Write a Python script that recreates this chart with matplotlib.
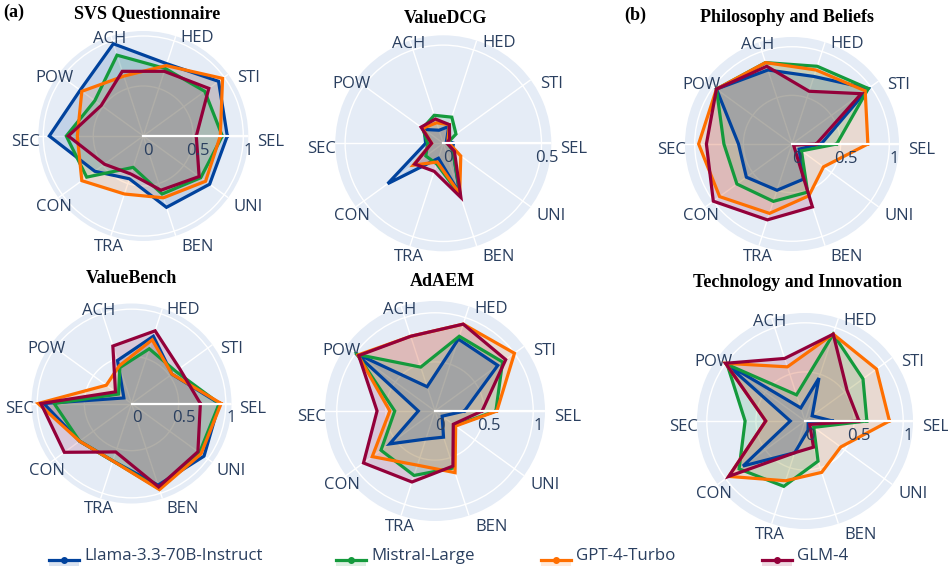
import numpy as np
import matplotlib.pyplot as plt
from matplotlib.patches import Rectangle
from matplotlib.lines import Line2D
import matplotlib.transforms as mtransforms

plt.rcParams['font.family'] = ['Open Sans', 'DejaVu Sans']

# ------------------------------------------------------
# Data
# ------------------------------------------------------
categories = ["SEL", "STI", "HED", "ACH", "POW", "SEC", "CON", "TRA", "BEN", "UNI"]
models = ["Llama-3.3-70B-Instruct", "Mistral-Large", "GPT-4-Turbo", "GLM-4"]
model_colors = ["#00429d", "#149a3c", "#ff6f00", "#93003a"]

# rows follow models, columns follow categories
svs = [[0.84, 0.93, 0.76, 0.97, 0.78, 0.94, 0.60, 0.45, 0.75, 0.82],
       [0.79, 0.76, 0.71, 0.85, 0.60, 0.77, 0.70, 0.33, 0.61, 0.71],
       [0.77, 0.98, 0.74, 0.63, 0.76, 0.66, 0.76, 0.61, 0.65, 0.77],
       [0.53, 0.81, 0.68, 0.68, 0.52, 0.75, 0.48, 0.40, 0.57, 0.69]]

valuedcg = [[0.05, 0.02, 0.09, 0.07, 0.12, 0.09, 0.35, 0.08, 0.27, 0.06],
            [0.02, 0.08, 0.14, 0.15, 0.13, 0.08, 0.11, 0.11, 0.28, 0.06],
            [0.03, 0.03, 0.10, 0.11, 0.13, 0.06, 0.19, 0.10, 0.27, 0.11],
            [0.02, 0.04, 0.10, 0.13, 0.14, 0.06, 0.18, 0.15, 0.29, 0.07]]

philosophy = [[0.30, 0.97, 0.73, 0.80, 0.96, 0.55, 0.58, 0.50, 0.38, 0.09],
              [0.46, 0.97, 0.84, 0.88, 0.96, 0.70, 0.70, 0.62, 0.52, 0.12],
              [0.78, 0.93, 0.80, 0.88, 0.96, 0.96, 0.92, 0.75, 0.56, 0.40],
              [0.25, 0.88, 0.57, 0.84, 0.96, 0.88, 1.00, 0.82, 0.68, 0.02]]

valuebench = [[0.93, 0.53, 0.75, 0.48, 0.10, 0.93, 0.68, 0.64, 0.91, 0.95],
              [0.93, 0.58, 0.61, 0.40, 0.17, 0.82, 0.68, 0.64, 0.95, 0.89],
              [0.95, 0.53, 0.71, 0.42, 0.33, 0.99, 0.68, 0.64, 0.96, 0.91],
              [0.73, 0.63, 0.81, 0.64, 0.21, 0.96, 0.88, 0.54, 0.93, 0.87]]

adaem = [[0.30, 0.79, 0.77, 0.26, 1.00, 0.17, 0.57, 0.30, 0.28, 0.09],
         [0.62, 0.85, 0.80, 0.47, 0.98, 0.41, 0.68, 0.69, 0.61, 0.25],
         [0.63, 1.00, 0.93, 0.80, 0.97, 0.46, 0.79, 0.58, 0.66, 0.26],
         [0.48, 0.89, 0.93, 0.80, 0.96, 0.59, 0.90, 0.76, 0.59, 0.23]]

technology = [[0.28, 0.09, 0.46, 0.14, 1.00, 0.15, 0.78, 0.34, 0.10, 0.04],
              [0.63, 0.73, 0.93, 0.28, 0.98, 0.61, 0.83, 0.70, 0.43, 0.11],
              [0.86, 0.90, 0.93, 0.58, 1.00, 0.40, 0.96, 0.64, 0.55, 0.45],
              [0.55, 0.53, 0.93, 0.67, 1.00, 0.40, 0.96, 0.34, 0.28, 0.06]]

# ------------------------------------------------------
# Layout (pixels)
# ------------------------------------------------------
W, H = 948, 569
fig = plt.figure(figsize=(W / 100, H / 100), dpi=100)

FONT_COLOR = "#2a3f5f"
BG = "#E5ECF6"

# label centre offsets for a circle of radius 105 px
label_dx = [127, 105, 54, -34, -89, -118, -89, -34, 54, 105]
label_dy = [5.7, -57.7, -97.7, -96.7, -57.7, 5.7, 70.7, 110.7, 110.7, 70.7]

angles = np.deg2rad(np.arange(len(categories)) * 36.0)


def px(x, y):
    return x / W, 1 - y / H


def radar(data, title, cx, cy, R, rmax, rings, tx, ty):
    x0, y0 = px(cx - R, cy + R)
    ax = fig.add_axes([x0, y0, 2 * R / W, 2 * R / H], projection="polar")
    ax.set_facecolor(BG)
    ax.set_ylim(0, rmax)
    ax.set_xticks(angles)
    ax.set_xticklabels([])
    ax.set_yticks(rings)
    ax.set_yticklabels([])
    ax.grid(color="white", lw=1.0)
    ax.spines["polar"].set_visible(False)

    th = np.append(angles, angles[0])
    n = len(data)
    for k in range(n):
        r = np.append(data[k], data[k][0])
        col = model_colors[k]
        # fills stacked last model first, outlines first model first
        ax.fill(th, r, color=col, alpha=0.15, lw=0, zorder=2 + (n - k) * 0.1)
        ax.plot(th, r, color=col, lw=2.3, zorder=3 + k * 0.1, solid_joinstyle="miter")

    ax.plot([0, 0], [0, rmax], color="white", lw=1.6, zorder=4)

    # angular labels
    s = R / 105.0
    for lab, dx, dy in zip(categories, label_dx, label_dy):
        ax.text(0.5 + dx * s / (2 * R), 0.5 - dy * s / (2 * R), lab,
                transform=ax.transAxes, ha="center", va="center",
                fontsize=12, color=FONT_COLOR)

    # radial tick labels
    off = mtransforms.offset_copy(ax.transData, fig=fig, x=5, y=-15, units="dots")
    for t in [0] + list(rings):
        ax.text(0, t, f"{t:g}", transform=off, ha="center", va="center",
                fontsize=12, color=FONT_COLOR, zorder=6)

    fig.text(*px(tx, ty), title, ha="center", va="baseline", fontsize=13,
             fontweight="bold", family="Liberation Serif", color="black")
    return ax


radar(svs, "SVS Questionnaire", 143.3, 136, 105, 1.05, [0.5, 1], 146.7, 18.5)
radar(valuedcg, "ValueDCG", 443.3, 143.3, 108, 0.55, [0.5], 445, 23)
radar(philosophy, "Philosophy and Beliefs", 792, 144, 107, 1.1, [0.5, 1], 786.5, 22)
radar(valuebench, "ValueBench", 131.5, 403.5, 100, 1.06, [0.5, 1], 131, 283)
radar(adaem, "AdAEM", 435, 411, 110, 1.12, [0.5, 1], 442.5, 285.5)
radar(technology, "Technology and Innovation", 805, 421, 108, 1.1, [0.5, 1], 797.5, 287)

fig.text(*px(14, 17), "(a)", ha="center", va="baseline", fontsize=13,
         fontweight="bold", family="Liberation Serif")
fig.text(*px(635, 20), "(b)", ha="center", va="baseline", fontsize=13,
         fontweight="bold", family="Liberation Serif")

# ------------------------------------------------------
# Legend
# ------------------------------------------------------
legend_x = [49, 336, 541, 762]
ly = 560
for name, col, lx in zip(models, model_colors, legend_x):
    fx, fy = px(lx, ly + 6)
    fig.patches.append(Rectangle((fx, fy), 30 / W, 6 / H, transform=fig.transFigure,
                                 facecolor=col, alpha=0.15, lw=0))
    fig.lines.append(Line2D([lx / W, (lx + 30) / W], [1 - ly / H] * 2,
                            transform=fig.transFigure, color=col, lw=2.3))
    fig.lines.append(Line2D([(lx + 15) / W], [1 - ly / H], transform=fig.transFigure,
                            color=col, marker="o", markersize=4, lw=0))
    fig.text(*px(lx + 35, 556), name, ha="left", va="center", fontsize=12.2,
             color=FONT_COLOR)

fig.savefig("out.png", dpi=100)
